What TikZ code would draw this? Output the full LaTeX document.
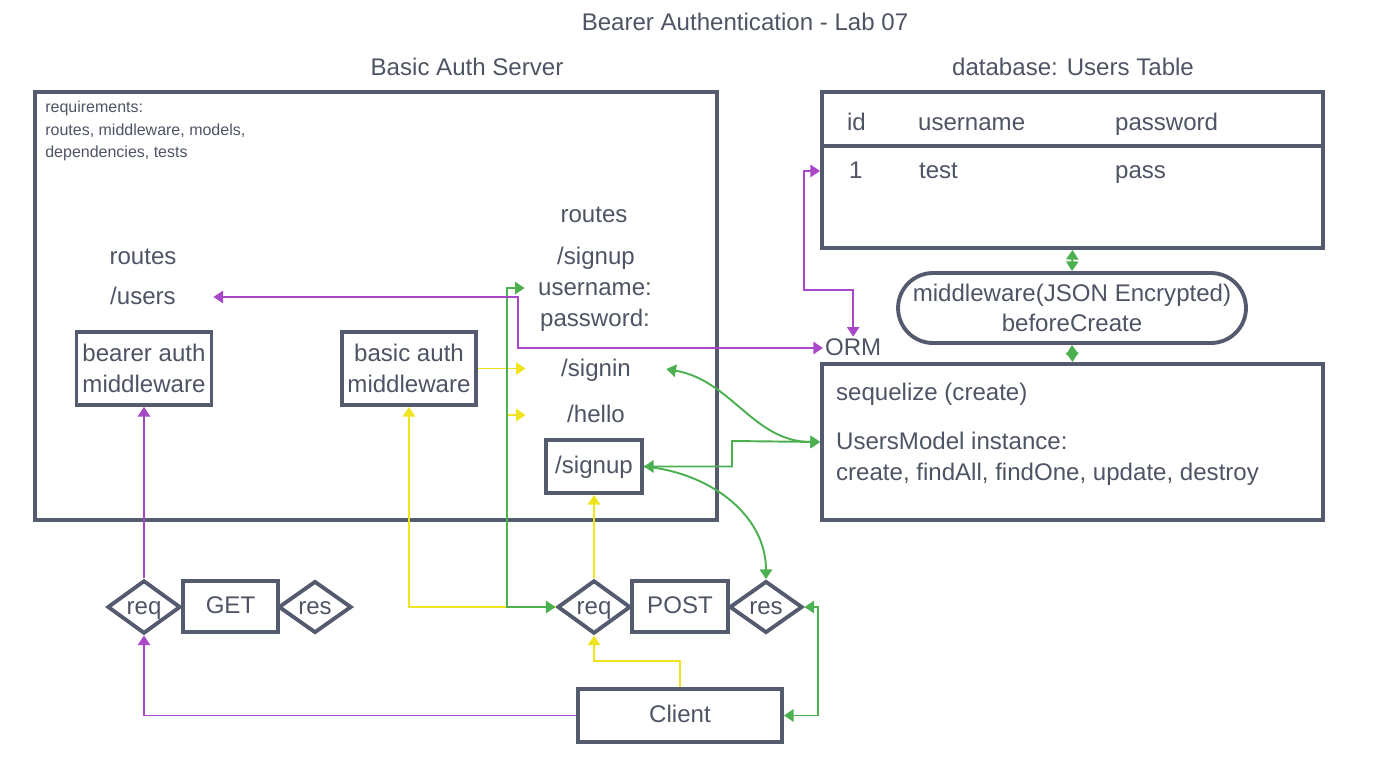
\documentclass[tikz,border=0pt]{standalone}
\usepackage{fontspec}
\setmainfont{Liberation Sans}
\usetikzlibrary{arrows.meta,shapes.geometric}
\definecolor{inkgray}{RGB}{78,84,100}
\definecolor{framegray}{RGB}{85,91,110}
\definecolor{authpurple}{RGB}{168,72,200}
\definecolor{authgreen}{RGB}{76,175,80}
\definecolor{authyellow}{RGB}{240,228,30}

\begin{document}
\begin{tikzpicture}[x=0.02cm, y=-0.02cm, >={Triangle[length=5.5pt,width=7pt]},
  every node/.style={font=\fontsize{13.7}{17.3}\selectfont, text=inkgray, inner sep=1pt, text height=0.95em, text depth=0.1em},
  stack/.style={text height=, text depth=},
  box/.style={draw=framegray, line width=2.2pt, align=center, inner sep=0pt},
  choice/.style={diamond, draw=framegray, line width=2.2pt, inner sep=0pt, minimum width=1.46cm, minimum height=1.02cm},
  route/.style={minimum width=2.8cm, inner sep=0pt},
  purp/.style={authpurple, line width=1.1pt},
  grn/.style={authgreen, line width=1.1pt},
  ylw/.style={authyellow, line width=1.1pt}]
\useasboundingbox (0,0) rectangle (1381,764);

\node (title) at (745,23) {Bearer Authentication - Lab 07};
\node (srvtitle) at (467,68) {Basic Auth Server};
\node (dbtitle) at (1073,68) {database: Users Table};

\node[box, minimum width=13.64cm, minimum height=8.56cm] (server) at (376,306) {};
\node[stack, anchor=west, align=left, inner sep=0pt, font=\fontsize{9.1}{12.8}\selectfont] (reqs) at (45,131) {requirements:\\routes, middleware, models,\\dependencies, tests};

\node (routesL) at (143,257) {routes};
\node[route] (users) at (143,297) {/users};
\node[box, stack, minimum width=2.7cm, minimum height=1.46cm] (bearer) at (144,368.5) {bearer auth\\middleware};
\node[box, stack, minimum width=2.68cm, minimum height=1.46cm] (basic) at (409,368.5) {basic auth\\middleware};
\node (routesR) at (594,215) {routes};
\node (signup) at (596,257) {/signup};
\node[route] (username) at (595,288) {username:};
\node (password) at (595,319) {password:};
\node[route] (signin) at (596,369) {/signin};
\node[route] (hello) at (596,415) {/hello};
\node[box, minimum width=1.92cm, minimum height=1.06cm] (signupbox) at (594,466.5) {/signup};

\node[box, minimum width=10.02cm, minimum height=3.12cm] (db) at (1072.5,170) {};
\draw[framegray, line width=2.2pt] (822,146) -- (1323,146);
\node[anchor=west] (hid) at (845,123) {id};
\node[anchor=west] (huser) at (916,123) {username};
\node[anchor=west] (hpass) at (1113,123) {password};
\node[anchor=west] (rid) at (847,171) {1};
\node[anchor=west] (ruser) at (917,171) {test};
\node[anchor=west] (rpass) at (1113,171) {pass};

\node[box, stack, rounded corners=0.7cm, minimum width=6.96cm, minimum height=1.4cm] (crypt) at (1072,308) {middleware(JSON Encrypted)\\beforeCreate};
\node[anchor=west] (orm) at (823,348) {ORM};

\node[box, minimum width=10.02cm, minimum height=3.12cm] (seq) at (1072.5,442) {};
\node[anchor=west] (seqcreate) at (834,393) {sequelize (create)};
\node[anchor=west] (umi) at (834,442) {UsersModel instance:};
\node[anchor=west] (methods) at (834,473) {create, findAll, findOne, update, destroy};

\node[choice] (reqget) at (144,607) {req};
\node[box, minimum width=1.9cm, minimum height=1.02cm] (get) at (230.5,606.5) {GET};
\node[choice] (resget) at (315,607) {res};
\node[choice] (reqpost) at (594,607) {req};
\node[box, minimum width=1.92cm, minimum height=1.02cm] (post) at (680,606.5) {POST};
\node[choice] (respost) at (766,607) {res};
\node[box, minimum width=4.08cm, minimum height=1.06cm] (client) at (680,715.5) {Client};

\coordinate (usersbend) at (518,297);
\coordinate (dbbend) at (804,290);
\coordinate (reqbend) at (507,450);
\coordinate (umibend) at (732,441);
\coordinate (clientbend) at (818,607);
\coordinate (clienttop) at (640,661);
\coordinate (hellostub) at (507,415);

\draw[ylw,->] (reqpost.west) -| (basic.south);
\draw[ylw,->] (basic.east) -- (basic.east -| signin.west);
\draw[ylw,->] (hellostub) -- (hello.west);
\draw[ylw,->] (client.north) |- (clienttop) -| (reqpost.south);
\draw[ylw,->] (reqpost.north) -- (signupbox.south);

\draw[grn,<->] (reqpost.west) -| (reqbend) |- (username.west);
\draw[grn,<->] (signin.east) to[out=-10,in=180] (seq.west |- umi);
\draw[grn,<->] (signupbox.east) -| (umibend) -- (seq.west |- umi);
\draw[grn,->] (signupbox.east) to[out=-5,in=90] (respost.north);
\draw[grn,<->] (client.east) -| (clientbend) -- (respost.east);
\draw[grn,<->] (db.south) -- (crypt.north);
\draw[grn,<->] (crypt.south) -- (seq.north);

\draw[purp,->] (client.west) -| (reqget.south);
\draw[purp,->] (reqget.north) -- (bearer.south);
\draw[purp,<->] (users.east) -| (usersbend) |- (orm.west);
\draw[purp,<->] (orm.north) |- (dbbend) |- (db.west |- rid);
\end{tikzpicture}
\end{document}
